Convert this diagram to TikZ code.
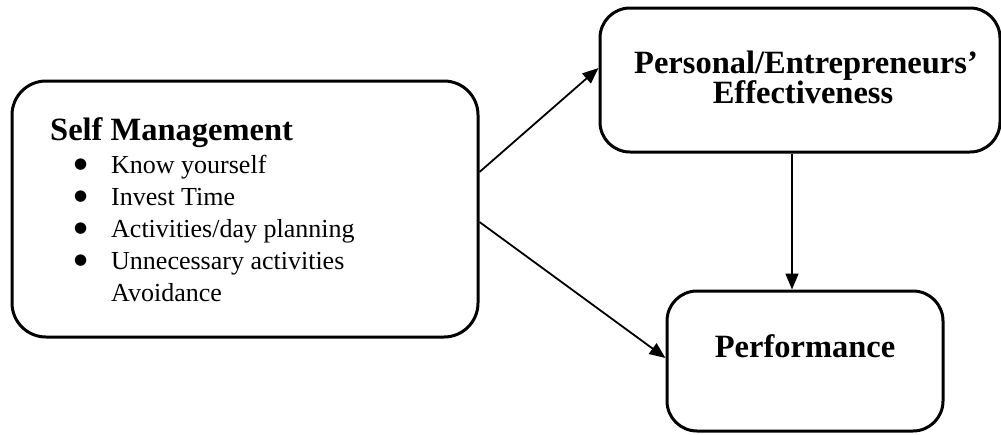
\documentclass[tikz,border=0pt]{standalone}
\usepackage{fontspec}
\setmainfont{Liberation Serif}
\newfontfamily\symfont{DejaVu Sans}
\usetikzlibrary{arrows.meta,calc}
\newcommand\bulletmark{\makebox[37pt][l]{\raisebox{4.5pt}{\symfont\fontsize{15}{15}\selectfont ●}}}
\begin{document}
\begin{tikzpicture}[x=1pt,y=-1pt,
  box/.style={draw, line width=3pt, rounded corners=30pt, inner sep=0pt},
  conn/.style={line width=1.8pt, -{Triangle[length=16pt,width=13pt]}},
  hd/.style={font=\fontsize{32.5}{31}\selectfont\bfseries, inner sep=0pt},
  itemtext/.style={font=\fontsize{26}{32}\selectfont, inner sep=0pt}]
\useasboundingbox (0,0) rectangle (1001,434);
\node[box, minimum width=466pt, minimum height=256pt, rounded corners=34pt] (sm) at (245,209) {};
\node[box, minimum width=400pt, minimum height=144pt] (pe) at (800,80) {};
\node[box, minimum width=276pt, minimum height=140pt] (pf) at (805,361) {};
\node[hd, anchor=base west] (smt) at (50,140) {Self Management};
\node[itemtext, anchor=base west] (sml) at (74,173) {\begin{tabular}[t]{@{}l@{}l@{}}
\bulletmark & Know yourself\\
\bulletmark & Invest Time\\
\bulletmark & Activities/day planning\\
\bulletmark & Unnecessary activities\\
 & Avoidance
\end{tabular}};
\node[hd, anchor=base] (pet1) at (806,73) {Personal/Entrepreneurs’};
\node[hd, anchor=base] (pet2) at (803,103) {Effectiveness};
\node[hd, anchor=base] (pft) at (805,357) {Performance};
\draw[conn] ([yshift=37pt]sm.east) -- ([yshift=12pt]pe.west);
\draw[conn] ([yshift=-13pt]sm.east) -- ([yshift=3pt]pf.west);
\draw[conn] ([xshift=-8pt]pe.south) -- ([xshift=-13pt]pf.north);
\end{tikzpicture}
\end{document}
